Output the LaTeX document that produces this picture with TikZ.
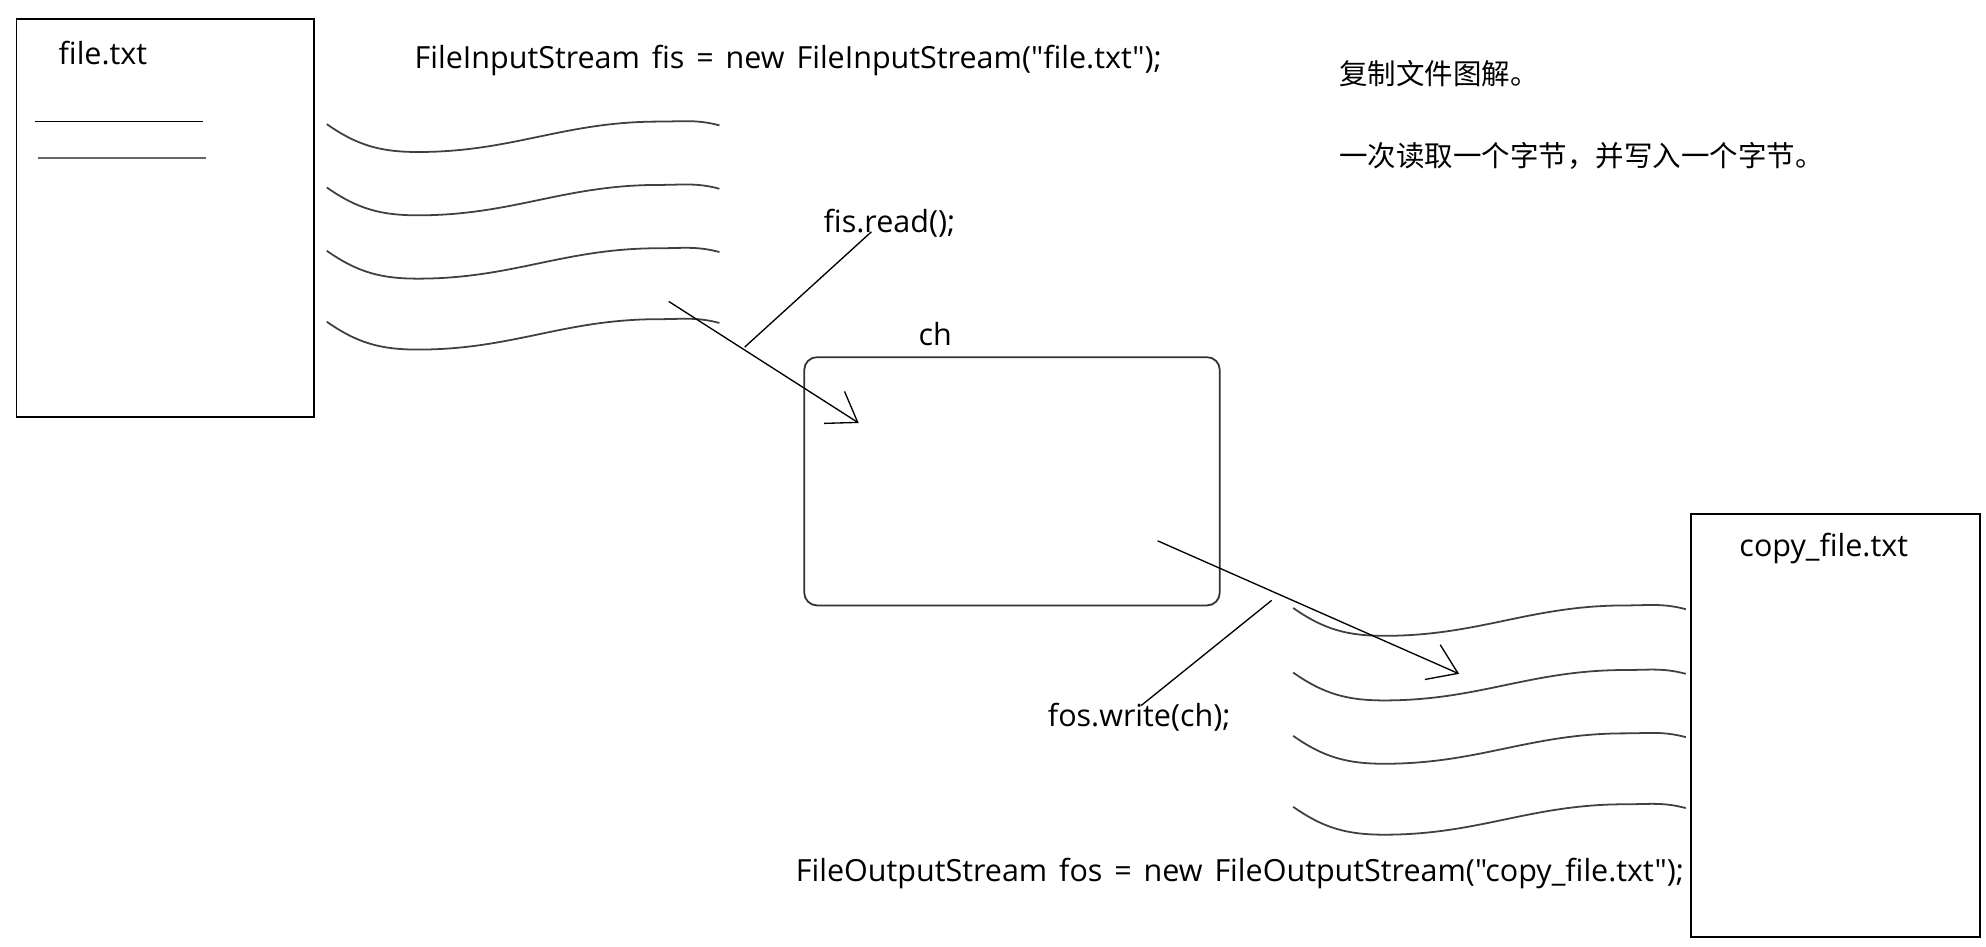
\documentclass[tikz,border=0pt]{standalone}
\usepackage{fontspec}
\newfontfamily\codefont{Open Sans}[WordSpace=1.5]
\newfontfamily\cjkfont{Noto Sans CJK SC}
\usetikzlibrary{arrows.meta}

\begin{document}
\begin{tikzpicture}[x=0.2mm,y=-0.2mm]

    \tikzset{
      filebox/.style={
        draw,
        line width=0.8pt,
        inner sep=0pt,
      },
      stream/.style={
        line width=0.6pt,
        -{Straight Barb[length=4.4mm,width=6mm]},
      },
      wave/.style={
        line width=0.8pt,
        color=black!75,
      },
      code/.style={
        anchor=west,
        inner sep=0pt,
        font=\codefont\fontsize{13.7}{16}\selectfont,
      },
      note/.style={
        anchor=west,
        inner sep=0pt,
        font=\cjkfont\fontsize{12.8}{15}\selectfont,
      },
    }
    \useasboundingbox (0,0) rectangle (1568,747);

    \node[filebox, minimum width=47mm, minimum height=62.8mm] (src) at (130.5,172) {};
    \node[code] (srcname) at (46,42) {file.txt};
    \draw[line width=0.6pt] (28,96) -- (160,96);
    \draw[line width=0.8pt, black!60] (30,125) -- (163,125);

    \node[filebox, draw=black!80, rounded corners=2mm, minimum width=65.6mm, minimum height=39.2mm] (buf) at (799,380) {};
    \node[code] (bufname) at (725,264) {ch};

    \node[filebox, minimum width=45.6mm, minimum height=66.8mm] (dst) at (1449,573) {};
    \node[code] (dstname) at (1373,433) {copy\_file.txt};

    \node[code] (openin) at (327,48) {FileInputStream fis = new FileInputStream("file.txt");};
    \node[code] (openout) at (628,690) {FileOutputStream fos = new FileOutputStream("copy\_file.txt");};
    \node[code] (readcall) at (650,176) {fis.read();};
    \node[code] (writecall) at (827,566) {fos.write(ch);};
    \node[note] (title) at (1057,58) {复制文件图解。};
    \node[note] (rule) at (1057,123) {一次读取一个字节，并写入一个字节。};

    \foreach \y in {98,148,198,254}
      \draw[wave] (258,\y) to[out=-35,in=180] ++(72,22) to[out=0,in=180] ++(190,-24) to[out=0,in=165] ++(48,3);
    \foreach \y in {480,531,581,637}
      \draw[wave] (1021,\y) to[out=-35,in=180] ++(72,22) to[out=0,in=180] ++(190,-24) to[out=0,in=165] ++(48,3);

    \coordinate (readfrom) at (528,238);
    \coordinate (readto) at (678,334);
    \coordinate (readfoot) at (588,274);
    \coordinate (readhead) at (688,183);
    \draw[stream] (readfrom) -- (readto);
    \draw[line width=0.6pt] (readfoot) -- (readhead);

    \coordinate (writefrom) at (914,427);
    \coordinate (writeto) at (1152,532);
    \coordinate (writefoot) at (1004,474);
    \coordinate (writehead) at (901,557);
    \draw[stream] (writefrom) -- (writeto);
    \draw[line width=0.6pt] (writefoot) -- (writehead);

\end{tikzpicture}
\end{document}
